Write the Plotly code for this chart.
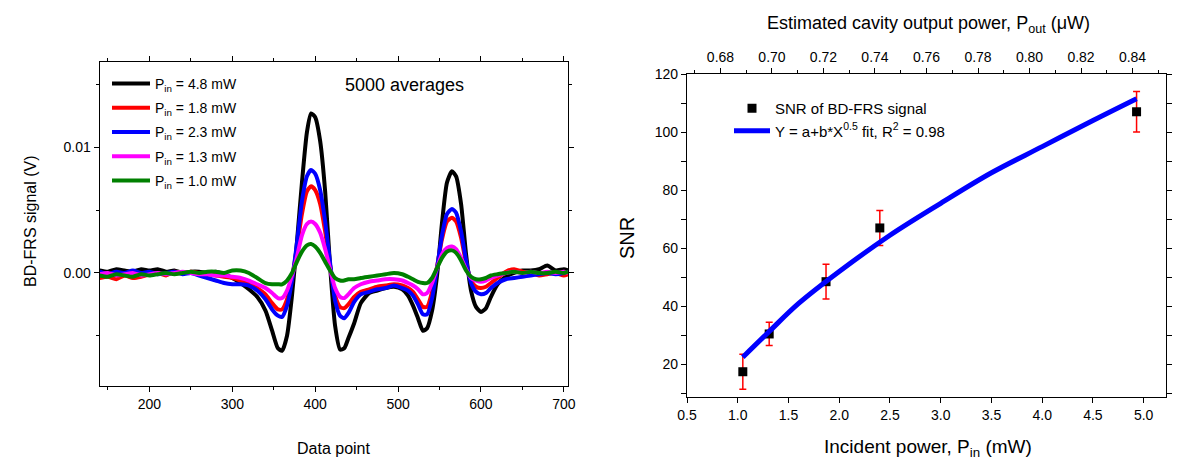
import plotly.graph_objects as go

W, H = 1180, 459
FONT = "Liberation Sans, Arial, sans-serif"

# ---------------- Left panel data ----------------
data_point = [140,150,160,170,180,190,200,210,220,230,240,250,260,270,280,290,300,310,320,330,340,
              348,355,360,366,372,378,384,390,395,400,
              406,412,418,424,430,435,440,447,455,465,
              475,485,495,505,512,518,524,530,535,541,
              547,553,559,565,570,576,582,588,594,600,
              606,612,620,630,640,650,660,670,680,690,
              700,705]

sig_48 = [0.0002,0.0001,0.0003,0.0002,0.0001,0.0003,0.0002,0.0003,0.0001,0.0002,0.0000,0.0001,0.0001,0.0000,0.0001,-0.0001,-0.0004,-0.0008,-0.0013,-0.0019,-0.0030,
          -0.0046,-0.0060,-0.0062,-0.0050,-0.0018,0.0025,0.0072,0.0112,0.0127,0.0124,
          0.0105,0.0065,0.0005,-0.0042,-0.0061,-0.0060,-0.0052,-0.0040,-0.0024,-0.0016,
          -0.0014,-0.0012,-0.0011,-0.0013,-0.0018,-0.0026,-0.0036,-0.0046,-0.0044,-0.0030,
          -0.0002,0.0040,0.0072,0.0081,0.0077,0.0055,0.0015,-0.0014,-0.0027,-0.0031,
          -0.0028,-0.0019,-0.0009,-0.0003,0.0000,0.0002,0.0002,0.0003,0.0006,0.0002,
          0.0003,0.0002]

sig_18 = [-0.0004,-0.0003,-0.0005,-0.0002,-0.0004,-0.0003,-0.0001,0.0000,-0.0002,0.0001,0.0000,0.0001,0.0000,-0.0001,-0.0002,-0.0003,-0.0004,-0.0006,-0.0008,-0.0012,-0.0017,
          -0.0024,-0.0029,-0.0029,-0.0021,-0.0004,0.0020,0.0047,0.0065,0.0069,0.0066,
          0.0055,0.0033,0.0006,-0.0018,-0.0027,-0.0028,-0.0025,-0.0019,-0.0015,-0.0013,
          -0.0011,-0.0010,-0.0009,-0.0010,-0.0012,-0.0015,-0.0021,-0.0027,-0.0027,-0.0015,
          0.0005,0.0027,0.0041,0.0044,0.0041,0.0028,0.0008,-0.0006,-0.0011,-0.0012,
          -0.0011,-0.0008,-0.0004,0.0001,0.0003,0.0001,0.0000,-0.0002,-0.0001,0.0000,
          -0.0002,-0.0001]

sig_23 = [0.0001,-0.0001,0.0001,0.0000,0.0002,0.0000,0.0001,-0.0001,0.0000,0.0001,-0.0001,0.0000,-0.0002,-0.0004,-0.0006,-0.0008,-0.0009,-0.0009,-0.0010,-0.0014,-0.0021,
          -0.0029,-0.0034,-0.0035,-0.0026,-0.0006,0.0024,0.0057,0.0077,0.0082,0.0079,
          0.0066,0.0041,0.0008,-0.0022,-0.0034,-0.0036,-0.0032,-0.0023,-0.0017,-0.0015,
          -0.0013,-0.0012,-0.0010,-0.0012,-0.0014,-0.0018,-0.0025,-0.0033,-0.0033,-0.0020,
          0.0004,0.0030,0.0047,0.0051,0.0048,0.0033,0.0010,-0.0008,-0.0015,-0.0017,
          -0.0016,-0.0012,-0.0008,-0.0005,-0.0004,-0.0003,-0.0002,-0.0001,0.0000,-0.0001,
          0.0000,0.0001]

sig_13 = [-0.0001,0.0000,-0.0002,-0.0001,0.0000,-0.0002,-0.0001,0.0000,-0.0001,0.0000,0.0001,0.0000,-0.0001,-0.0001,-0.0002,-0.0002,-0.0003,-0.0004,-0.0006,-0.0009,-0.0012,
          -0.0016,-0.0020,-0.0020,-0.0014,-0.0002,0.0013,0.0030,0.0039,0.0041,0.0039,
          0.0032,0.0019,0.0003,-0.0012,-0.0019,-0.0020,-0.0017,-0.0012,-0.0009,-0.0007,
          -0.0006,-0.0005,-0.0005,-0.0006,-0.0008,-0.0010,-0.0013,-0.0017,-0.0016,-0.0008,
          0.0004,0.0015,0.0020,0.0021,0.0019,0.0012,0.0003,-0.0004,-0.0006,-0.0007,
          -0.0006,-0.0004,-0.0002,0.0000,0.0001,0.0000,0.0001,0.0000,0.0001,0.0000,
          0.0001,0.0000]

sig_10 = [-0.0002,-0.0003,-0.0001,-0.0002,-0.0003,-0.0001,-0.0002,-0.0001,0.0000,-0.0001,0.0000,0.0001,0.0000,0.0001,0.0001,0.0000,0.0002,0.0002,0.0000,-0.0004,-0.0008,
          -0.0009,-0.0009,-0.0009,-0.0006,0.0000,0.0009,0.0017,0.0022,0.0023,0.0021,
          0.0016,0.0009,0.0002,-0.0004,-0.0006,-0.0006,-0.0005,-0.0005,-0.0004,-0.0003,
          -0.0002,-0.0001,0.0000,-0.0001,-0.0003,-0.0005,-0.0007,-0.0008,-0.0008,-0.0004,
          0.0004,0.0012,0.0017,0.0018,0.0016,0.0010,0.0002,-0.0003,-0.0005,-0.0005,
          -0.0004,-0.0002,-0.0001,0.0000,0.0001,0.0000,0.0001,0.0000,0.0000,0.0001,
          0.0000,0.0001]

left_series = [
    ("P<sub>in</sub> = 4.8 mW", sig_48, "#000000"),
    ("P<sub>in</sub> = 1.8 mW", sig_18, "#ff0000"),
    ("P<sub>in</sub> = 2.3 mW", sig_23, "#0000ff"),
    ("P<sub>in</sub> = 1.3 mW", sig_13, "#ff00ff"),
    ("P<sub>in</sub> = 1.0 mW", sig_10, "#008000"),
]

# ---------------- Right panel data ----------------
p_in = [1.05, 1.31, 1.87, 2.40, 4.93]
snr = [17.5, 30.5, 48.5, 67.0, 107.0]
snr_err = [6.0, 4.0, 6.0, 6.0, 7.0]

fit_x = [1.05, 1.3, 1.6, 2.0, 2.5, 3.0, 3.5, 4.0, 4.5, 4.93]
fit_y = [22.5, 31.0, 41.0, 52.0, 64.5, 75.5, 86.0, 95.0, 104.0, 111.5]


def px(x):
    return x / W


def py(y):
    return 1 - y / H


fig = go.Figure()

for name, ys, col in left_series:
    fig.add_trace(go.Scatter(
        x=data_point, y=ys, mode="lines", name=name,
        line=dict(color=col, width=4, shape="spline", smoothing=0.6),
        xaxis="x", yaxis="y", legend="legend", legendgroup=name,
    ))

fig.add_trace(go.Scatter(
    x=p_in, y=snr, mode="markers", name="SNR of BD-FRS signal",
    marker=dict(symbol="square", size=9, color="#000000"),
    error_y=dict(type="data", array=snr_err, color="#ff0000", thickness=1.5, width=3.5),
    xaxis="x2", yaxis="y2", legend="legend2",
))
fig.add_trace(go.Scatter(
    x=fit_x, y=fit_y, mode="lines",
    name="Y = a+b*X<sup>0.5</sup> fit, R<sup>2</sup> = 0.98",
    line=dict(color="#0000ff", width=5, shape="spline"),
    xaxis="x2", yaxis="y2", legend="legend2",
))
# empty trace so the top axis is created
fig.add_trace(go.Scatter(x=[], y=[], xaxis="x3", yaxis="y2", showlegend=False))

axis_common = dict(
    showline=True, linecolor="#000000", linewidth=1.3,
    ticks="outside", ticklen=5, tickwidth=1, tickcolor="#000000",
    showgrid=False, zeroline=False,
    tickfont=dict(family=FONT, size=14, color="#000000"),
    automargin=False,
)
minor_common = dict(ticks="outside", ticklen=3, tickwidth=1, tickcolor="#000000", showgrid=False)

L_x0, L_x1, L_y0, L_y1 = 91.7, 560, 54, 378
R_x0, R_x1, R_y0, R_y1 = 679, 1158, 66, 389

fig.update_layout(
    width=W, height=H,
    margin=dict(l=0, r=0, t=0, b=0),
    paper_bgcolor="white", plot_bgcolor="white",
    font=dict(family=FONT, color="#000000"),
    xaxis=dict(domain=[px(L_x0), px(L_x1)], anchor="y", range=[140, 705],
               tick0=0, dtick=100, mirror="allticks",
               minor=dict(dtick=50, **minor_common), **axis_common),
    yaxis=dict(domain=[py(L_y1), py(L_y0)], anchor="x", range=[-0.009, 0.0168],
               tick0=0, dtick=0.01, tickformat=".2f", mirror="allticks",
               minor=dict(dtick=0.005, **minor_common), **axis_common),
    xaxis2=dict(domain=[px(R_x0), px(R_x1)], anchor="y2", range=[0.5, 5.22],
                tick0=0, dtick=0.5, tickformat=".1f", mirror=True, **axis_common),
    xaxis3=dict(overlaying="x2", side="top", anchor="y2", range=[0.667, 0.853],
                tick0=0, dtick=0.02, tickformat=".2f",
                minor=dict(dtick=0.01, **minor_common), **axis_common),
    yaxis2=dict(domain=[py(R_y1), py(R_y0)], anchor="x2", range=[8.8, 120],
                tick0=0, dtick=20, mirror="allticks",
                minor=dict(dtick=10, **minor_common), **axis_common),
    legend=dict(x=px(99), y=py(60), xanchor="left", yanchor="top",
                bgcolor="rgba(0,0,0,0)", borderwidth=0, itemwidth=38,
                tracegroupgap=3,
                font=dict(family=FONT, size=14, color="#000000")),
    legend2=dict(x=px(721), y=py(84), xanchor="left", yanchor="top",
                 bgcolor="rgba(0,0,0,0)", borderwidth=0, itemwidth=36,
                 font=dict(family=FONT, size=15, color="#000000")),
    showlegend=True,
)

annotations = [
    dict(text="Data point", x=px(326), y=py(440), font=dict(size=16)),
    dict(text="BD-FRS signal (V)", x=px(22), y=py(213), textangle=-90, font=dict(size=16)),
    dict(text="5000 averages", x=px(396), y=py(77), font=dict(size=18)),
    dict(text="Incident power, P<sub>in</sub> (mW)", x=px(920), y=py(440), font=dict(size=19)),
    dict(text="SNR", x=px(619), y=py(230), textangle=-90, font=dict(size=20)),
    dict(text="Estimated cavity output power, P<sub>out</sub> (\u03bcW)", x=px(920), y=py(16), font=dict(size=18)),
]
for a in annotations:
    a.update(xref="paper", yref="paper", showarrow=False, xanchor="center", yanchor="middle")
    a["font"].update(family=FONT, color="#000000")
fig.update_layout(annotations=annotations)

fig.write_html("out.html")
